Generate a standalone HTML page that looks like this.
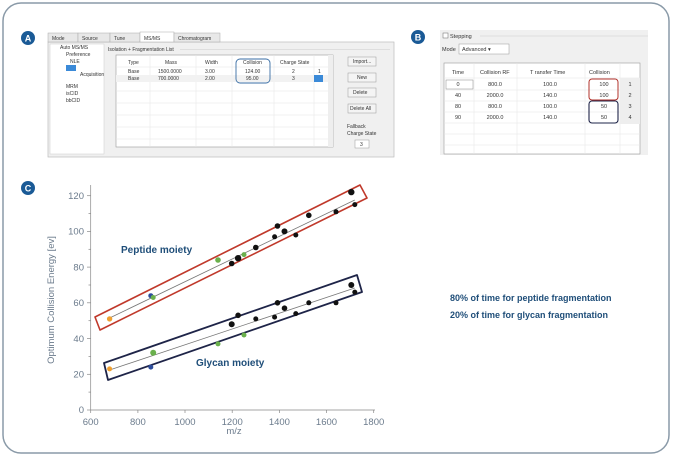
<!DOCTYPE html>
<html><head><meta charset="utf-8"><style>
body{margin:0;background:#fff;}
svg{display:block;font-family:"Liberation Sans",sans-serif;}
</style></head><body>
<svg width="673" height="456" viewBox="0 0 673 456" xmlns="http://www.w3.org/2000/svg">
<rect x="3" y="3" width="666" height="450" rx="18" fill="#fff" stroke="#8a9aa8" stroke-width="1.5"/>
<!-- labels -->
<g font-weight="bold" font-size="9" fill="#fff" text-anchor="middle">
<circle cx="28" cy="38" r="7" fill="#1a5a96"/><text x="28" y="41.5">A</text>
<circle cx="418" cy="37" r="7" fill="#1a5a96"/><text x="418" y="40.5">B</text>
<circle cx="28" cy="188" r="7" fill="#1a5a96"/><text x="28" y="191.5">C</text>
</g>
<!-- Panel A -->
<g font-size="5" fill="#333">
<rect x="48" y="42" width="346" height="115" fill="#f0f0f0" stroke="#bbb" stroke-width="0.7"/>
<rect x="48" y="33" width="30" height="9" fill="#e8e8e8" stroke="#aaa" stroke-width="0.5"/><text x="52" y="40">Mode</text>
<rect x="78" y="33" width="32" height="9" fill="#e8e8e8" stroke="#aaa" stroke-width="0.5"/><text x="82" y="40">Source</text>
<rect x="110" y="33" width="30" height="9" fill="#e8e8e8" stroke="#aaa" stroke-width="0.5"/><text x="114" y="40">Tune</text>
<rect x="140" y="32" width="34" height="10" fill="#fff" stroke="#aaa" stroke-width="0.5"/><text x="144" y="40">MS/MS</text>
<rect x="174" y="33" width="46" height="9" fill="#e8e8e8" stroke="#aaa" stroke-width="0.5"/><text x="178" y="40">Chromatogram</text>
<rect x="50" y="44" width="54" height="110" fill="#fff" stroke="#ccc" stroke-width="0.5"/>
<text x="60" y="49">Auto MS/MS</text><text x="66" y="56">Preference</text><text x="70" y="63">NLE</text>
<rect x="66" y="65" width="10" height="6" fill="#3b8ad8"/><text x="80" y="76">Acquisition</text>
<text x="66" y="88">MRM</text><text x="66" y="95">isCID</text><text x="66" y="102">bbCID</text>
<text x="108" y="51">Isolation + Fragmentation List</text>
<line x1="180" y1="49.5" x2="390" y2="49.5" stroke="#ccc" stroke-width="0.5"/>
<rect x="116" y="55" width="217" height="92" fill="#fff" stroke="#999" stroke-width="0.6"/>
<g stroke="#e4e4e4" stroke-width="0.5">
<line x1="116" y1="67" x2="328" y2="67"/><line x1="116" y1="79" x2="328" y2="79"/><line x1="116" y1="91" x2="328" y2="91"/><line x1="116" y1="103" x2="328" y2="103"/><line x1="116" y1="115" x2="328" y2="115"/><line x1="116" y1="127" x2="328" y2="127"/><line x1="116" y1="139" x2="328" y2="139"/>
<line x1="150" y1="55" x2="150" y2="147"/><line x1="196" y1="55" x2="196" y2="147"/><line x1="232" y1="55" x2="232" y2="147"/><line x1="274" y1="55" x2="274" y2="147"/><line x1="314" y1="55" x2="314" y2="147"/>
</g>
<rect x="328" y="55" width="5" height="92" fill="#eee"/>
<text x="128" y="64">Type</text><text x="165" y="64">Mass</text><text x="205" y="64">Width</text><text x="243" y="64">Collision</text><text x="280" y="64">Charge State</text>
<text x="128" y="73">Base</text><text x="158" y="73">1500.0000</text><text x="205" y="73">3.00</text><text x="245" y="73">124.00</text><text x="292" y="73">2</text><text x="318" y="73">1</text>
<rect x="116" y="75" width="212" height="7" fill="#f2f2f2"/>
<text x="128" y="80">Base</text><text x="158" y="80">700.0000</text><text x="205" y="80">2.00</text><text x="246" y="80">95.00</text><text x="292" y="80">3</text>
<rect x="314" y="75" width="9" height="7" fill="#3b8ad8"/>
<rect x="236" y="59" width="34" height="24" rx="4" fill="none" stroke="#3a6ea5" stroke-width="0.9"/>
<g fill="#f4f4f4" stroke="#999" stroke-width="0.5">
<rect x="348" y="57" width="28" height="9"/><rect x="348" y="73" width="28" height="9"/><rect x="348" y="88" width="28" height="9"/><rect x="348" y="104" width="28" height="9"/>
<rect x="355" y="140" width="14" height="8" fill="#fff"/></g>
<text x="353" y="63">Import...</text><text x="357" y="79">New</text><text x="353" y="94">Delete</text><text x="350" y="110">Delete All</text>
<text x="347" y="128">Fallback</text><text x="347" y="135">Charge State</text><text x="360" y="146">3</text>
</g>
<!-- Panel B -->
<g font-size="5.5" fill="#333">
<rect x="440" y="30" width="208" height="125" fill="#f0f0f0"/>
<rect x="443" y="33" width="5" height="5" fill="#fff" stroke="#666" stroke-width="0.5"/><text x="450" y="38">Stepping</text>
<line x1="480" y1="36" x2="648" y2="36" stroke="#ccc" stroke-width="0.5"/>
<text x="442" y="51">Mode</text><rect x="459" y="44" width="50" height="10" fill="#fff" stroke="#999" stroke-width="0.5"/><text x="462" y="51">Advanced ▾</text>
<rect x="444" y="63" width="196" height="91" fill="#fff" stroke="#999" stroke-width="0.6"/>
<g stroke="#e4e4e4" stroke-width="0.5">
<line x1="444" y1="78" x2="640" y2="78"/><line x1="444" y1="90" x2="640" y2="90"/><line x1="444" y1="101" x2="640" y2="101"/><line x1="444" y1="112" x2="640" y2="112"/><line x1="444" y1="123" x2="640" y2="123"/><line x1="444" y1="134" x2="640" y2="134"/><line x1="444" y1="145" x2="640" y2="145"/>
<line x1="474" y1="63" x2="474" y2="154"/><line x1="517" y1="63" x2="517" y2="154"/><line x1="585" y1="63" x2="585" y2="154"/><line x1="620" y1="63" x2="620" y2="154"/>
</g>
<rect x="620" y="78" width="20" height="46" fill="#eee"/>
<text x="452" y="74">Time</text><text x="480" y="74">Collision RF</text><text x="530" y="74">T ransfer Time</text><text x="589" y="74">Collision</text>
<text text-anchor="middle"><tspan x="458" y="86">0</tspan></text>
<rect x="446" y="80" width="27" height="9" fill="none" stroke="#888" stroke-width="0.5"/>
<g text-anchor="middle">
<text x="458" y="97">40</text><text x="458" y="108">80</text><text x="458" y="119">90</text>
<text x="495" y="86">800.0</text><text x="495" y="97">2000.0</text><text x="495" y="108">800.0</text><text x="495" y="119">2000.0</text>
<text x="550" y="86">100.0</text><text x="550" y="97">140.0</text><text x="550" y="108">100.0</text><text x="550" y="119">140.0</text>
<text x="604" y="86">100</text><text x="604" y="97">100</text><text x="604" y="108">50</text><text x="604" y="119">50</text>
<text x="630" y="86">1</text><text x="630" y="97">2</text><text x="630" y="108">3</text><text x="630" y="119">4</text>
</g>
<rect x="589" y="79" width="29" height="21" rx="3" fill="none" stroke="#b0302a" stroke-width="1"/>
<rect x="589" y="101" width="29" height="22" rx="3" fill="none" stroke="#1e2448" stroke-width="1.1"/>
</g>
<!-- Panel C -->
<g stroke="#888" stroke-width="0.7">
<line x1="90.7" y1="185" x2="90.7" y2="410"/><line x1="90.7" y1="410" x2="375" y2="410"/>
<line x1="87" y1="410" x2="90.7" y2="410"/><line x1="87" y1="374.3" x2="90.7" y2="374.3"/><line x1="87" y1="338.6" x2="90.7" y2="338.6"/><line x1="87" y1="302.8" x2="90.7" y2="302.8"/><line x1="87" y1="267.1" x2="90.7" y2="267.1"/><line x1="87" y1="231.4" x2="90.7" y2="231.4"/><line x1="87" y1="195.7" x2="90.7" y2="195.7"/>
<line x1="88.5" y1="392.1" x2="90.7" y2="392.1"/><line x1="88.5" y1="356.4" x2="90.7" y2="356.4"/><line x1="88.5" y1="320.7" x2="90.7" y2="320.7"/><line x1="88.5" y1="285" x2="90.7" y2="285"/><line x1="88.5" y1="249.3" x2="90.7" y2="249.3"/><line x1="88.5" y1="213.6" x2="90.7" y2="213.6"/>
<line x1="90.7" y1="410" x2="90.7" y2="413"/><line x1="137.9" y1="410" x2="137.9" y2="413"/><line x1="185" y1="410" x2="185" y2="413"/><line x1="232.2" y1="410" x2="232.2" y2="413"/><line x1="279.4" y1="410" x2="279.4" y2="413"/><line x1="326.5" y1="410" x2="326.5" y2="413"/><line x1="373.7" y1="410" x2="373.7" y2="413"/>
</g>
<g font-size="9.5" fill="#6b7b8c">
<g text-anchor="end"><text x="84" y="413">0</text><text x="84" y="377.5">20</text><text x="84" y="342">40</text><text x="84" y="306">60</text><text x="84" y="270.5">80</text><text x="84" y="234.5">100</text><text x="84" y="199">120</text></g>
<g text-anchor="middle"><text x="90.7" y="425">600</text><text x="137.9" y="425">800</text><text x="185" y="425">1000</text><text x="232.2" y="425">1200</text><text x="279.4" y="425">1400</text><text x="326.5" y="425">1600</text><text x="373.7" y="425">1800</text>
<text x="234" y="434">m/z</text>
<text transform="translate(54,300) rotate(-90)">Optimum Collision Energy [ev]</text></g>
</g>
<line x1="109.6" y1="318" x2="354.8" y2="200" stroke="#777" stroke-width="0.8"/>
<line x1="109.6" y1="370" x2="354.8" y2="288" stroke="#777" stroke-width="0.8"/>
<polygon points="95,317 360,185 367,198 100,330" fill="none" stroke="#c0392b" stroke-width="1.6" stroke-linejoin="round"/>
<polygon points="104,363 357,275 362,292 108,380" fill="none" stroke="#1e2448" stroke-width="1.8" stroke-linejoin="round"/>
<g fill="#111">
<circle cx="231.7" cy="263.5" r="2.8"/><circle cx="238.1" cy="258.2" r="3.2"/><circle cx="255.8" cy="247.5" r="2.8"/><circle cx="274.6" cy="236.8" r="2.5"/><circle cx="277.5" cy="226" r="2.8"/><circle cx="284.5" cy="231.4" r="3"/><circle cx="295.8" cy="235" r="2.5"/><circle cx="308.8" cy="215.3" r="2.8"/><circle cx="336" cy="211.8" r="2.5"/><circle cx="351.3" cy="192.1" r="3.2"/><circle cx="354.8" cy="204.6" r="2.5"/>
<circle cx="231.7" cy="324.3" r="3"/><circle cx="238.1" cy="315.3" r="2.8"/><circle cx="255.8" cy="318.9" r="2.5"/><circle cx="274.6" cy="317.1" r="2.5"/><circle cx="277.5" cy="302.8" r="2.8"/><circle cx="284.5" cy="308.2" r="2.8"/><circle cx="295.8" cy="313.6" r="2.5"/><circle cx="308.8" cy="302.8" r="2.5"/><circle cx="336" cy="302.8" r="2.5"/><circle cx="351.3" cy="285" r="3"/><circle cx="354.8" cy="292.1" r="2.5"/>
</g>
<g fill="#f0a030"><circle cx="109.6" cy="318.9" r="2.7"/><circle cx="109.6" cy="368.9" r="2.5"/></g>
<g fill="#2d4d9c"><circle cx="150.8" cy="295.7" r="2.5"/><circle cx="150.8" cy="367.1" r="2.5"/></g>
<g fill="#6ab04c"><circle cx="153.2" cy="297.5" r="2.5"/><circle cx="218" cy="260" r="2.8"/><circle cx="244" cy="254.6" r="2.5"/><circle cx="153.2" cy="352.8" r="3"/><circle cx="218" cy="343.9" r="2.5"/><circle cx="244" cy="335" r="2.5"/></g>
<g font-size="10" font-weight="bold" fill="#1f4e79">
<text x="121" y="253">Peptide moiety</text>
<text x="196" y="366">Glycan moiety</text>
<text x="450" y="301" font-size="9">80% of time for peptide fragmentation</text>
<text x="450" y="318" font-size="9">20% of time for glycan fragmentation</text>
</g>
</svg>
</body></html>
